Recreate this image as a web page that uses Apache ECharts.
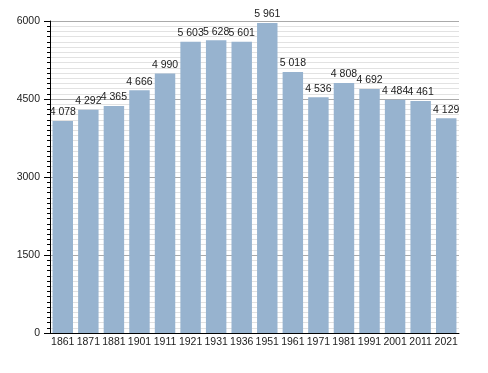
<!DOCTYPE html>
<html><head><meta charset="utf-8">
<script src="https://cdn.jsdelivr.net/npm/echarts@6/dist/echarts.min.js"></script>
<style>html,body{margin:0;padding:0;background:#fff}#c{width:488px;height:373px}</style>
</head><body><div id="c"></div>
<script>
var years = ['1861','1871','1881','1901','1911','1921','1931','1936','1951','1961','1971','1981','1991','2001','2011','2021'];
var population = [4078,4292,4365,4666,4990,5603,5628,5601,5961,5018,4536,4808,4692,4484,4461,4129];
var yTicks = [0,1500,3000,4500,6000];

function fmt(v){ var s=String(v); return s.length>3 ? s.slice(0,s.length-3)+'\u00a0'+s.slice(-3) : s; }

var chart = echarts.init(document.getElementById('c'), null, {renderer:'canvas'});
chart.setOption({
  animation:false,
  grid:{left:50,right:29,top:21,bottom:40,containLabel:false},
  xAxis:{type:'category',data:years,
    axisLine:{lineStyle:{color:'#000',width:1}},
    axisTick:{show:false},
    axisLabel:{color:'#222',fontSize:10.5,fontFamily:'Liberation Sans',margin:4,interval:0}},
  yAxis:{type:'value',min:yTicks[0],max:yTicks[yTicks.length-1],interval:1500,
    axisLine:{show:true,lineStyle:{color:'#000',width:1}},
    axisTick:{show:true,length:6,lineStyle:{color:'#000'}},
    minorTick:{show:true,splitNumber:15,length:3,lineStyle:{color:'#000'}},
    axisLabel:{color:'#222',fontSize:10.5,fontFamily:'Liberation Sans',margin:10,
      formatter:function(v){return String(v);}},
    splitLine:{show:true,lineStyle:{color:'#aaa',width:1}},
    minorSplitLine:{show:true,lineStyle:{color:'#e2e2e2',width:1}}},
  series:[{type:'bar',data:population,barCategoryGap:'20%',
    itemStyle:{color:'#97b3cf'},
    label:{show:true,position:'top',distance:3,color:'#222',fontSize:10.5,fontFamily:'Liberation Sans',
      formatter:function(p){return fmt(p.value);}}}]
});
</script></body></html>
